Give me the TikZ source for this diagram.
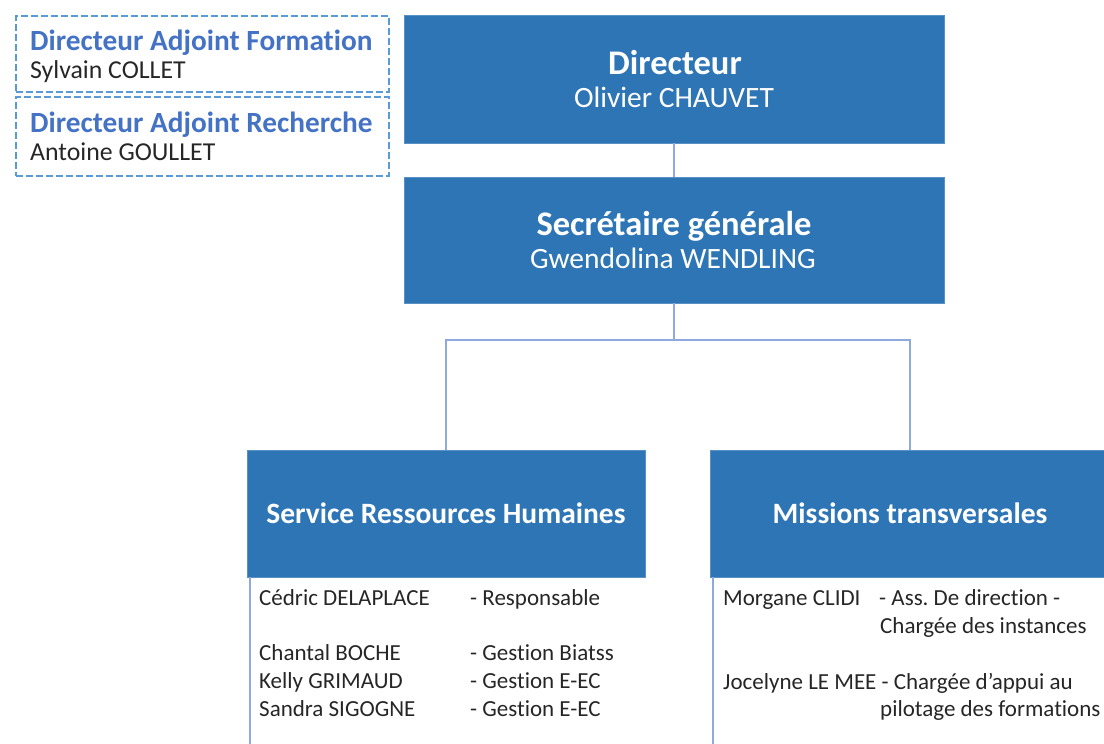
\documentclass[tikz,border=0pt]{standalone}
\usepackage{fontspec}
\setmainfont{Carlito}[Ligatures=NoCommon]
\frenchspacing
\definecolor{boxblue}{HTML}{2E75B6}
\definecolor{linkblue}{HTML}{8EA9DB}
\definecolor{dashblue}{HTML}{5B9BD5}
\definecolor{titleblue}{HTML}{4472C4}
\definecolor{txtgray}{HTML}{262626}
\tikzset{
  orgbox/.style={draw=boxblue!80!white, line width=0.8pt, fill=boxblue, text=white, align=center, inner sep=0pt},
  link/.style={draw=linkblue, line width=1.2pt},
  dashbox/.style={draw=dashblue, dash pattern=on 7pt off 3pt, line width=2pt, inner sep=0pt},
  txt/.style={anchor=base, inner sep=0pt},
  btitle/.style={txt, text=white, font=\fontsize{34.5}{40}\selectfont\bfseries},
  bname/.style={txt, text=white, font=\fontsize{29.5}{34}\selectfont},
  dtitle/.style={anchor=base west, inner sep=0pt, text=titleblue, font=\fontsize{29.3}{34}\selectfont\bfseries},
  dname/.style={anchor=base west, inner sep=0pt, text=txtgray, font=\fontsize{25.8}{30}\selectfont},
  lbl/.style={anchor=base west, inner sep=0pt, text=txtgray, font=\fontsize{23}{27}\selectfont},
}
\begin{document}
\begin{tikzpicture}[x=1pt,y=-1pt]
\useasboundingbox (0,0) rectangle (1104,744);
\clip (0,0) rectangle (1104,744);
% dashed boxes
\node[dashbox, minimum width=373pt, minimum height=76pt] (daf) at (202.5,54) {};
\node[dashbox, minimum width=373pt, minimum height=79pt] (dar) at (202.5,136.5) {};
\node[dtitle] (dafT) at (30,50) {Directeur Adjoint Formation};
\node[dname] (dafN) at (30,78) {Sylvain COLLET};
\node[dtitle] (darT) at (30,132) {Directeur Adjoint Recherche};
\node[dname] (darN) at (30,160) {Antoine GOULLET};
% main boxes
\node[orgbox, minimum width=540pt, minimum height=128pt] (dir) at (674,79) {};
\node[btitle] (dirT) at (675,74) {Directeur};
\node[bname] (dirN) at (674,107) {Olivier CHAUVET};
\node[orgbox, minimum width=540pt, minimum height=126pt] (sg) at (674,240) {};
\node[btitle] (sgT) at (674,235) {Secrétaire générale};
\node[bname] (sgN) at (673,268) {Gwendolina WENDLING};
\node[orgbox, minimum width=398pt, minimum height=127pt] (srh) at (446,513.5) {};
\node[txt, text=white, font=\fontsize{29.5}{34}\selectfont\bfseries] (srhT) at (446,523) {Service Ressources Humaines};
\node[orgbox, minimum width=400pt, minimum height=127pt] (mt) at (910,513.5) {};
\node[txt, text=white, font=\fontsize{29.5}{34}\selectfont\bfseries] (mtT) at (910,523) {Missions transversales};
% connectors
\draw[link] (dir.south) -- (sg.north);
\coordinate (jn) at (674,340);
\draw[link] (sg.south) -- (jn);
\draw[link] (jn) -| (srh.north);
\draw[link] (jn) -| (mt.north);
\coordinate (srhA) at (250,577);
\coordinate (srhB) at (250,744);
\coordinate (mtA) at (713,577);
\coordinate (mtB) at (713,744);
\draw[link] (srhA) -- (srhB);
\draw[link] (mtA) -- (mtB);
% SRH list
\node[lbl] (n1) at (259,605) {Cédric DELAPLACE};
\node[lbl] (r1) at (470,605) {- Responsable};
\node[lbl] (n2) at (259,660) {Chantal BOCHE};
\node[lbl] (r2) at (470,660) {- Gestion Biatss};
\node[lbl] (n3) at (259,688) {Kelly GRIMAUD};
\node[lbl] (r3) at (470,688) {- Gestion E-EC};
\node[lbl] (n4) at (259,716) {Sandra SIGOGNE};
\node[lbl] (r4) at (470,716) {- Gestion E-EC};
% Missions list
\node[lbl] (m1) at (723,605) {Morgane CLIDI};
\node[lbl] (q1) at (879,605) {- Ass. De direction -};
\node[lbl] (q1b) at (880,633) {Chargée des instances};
\node[lbl] (m2) at (723,689) {Jocelyne LE MEE - Chargée d’appui au};
\node[lbl] (q2b) at (880,716) {pilotage des formations};
\end{tikzpicture}
\end{document}
